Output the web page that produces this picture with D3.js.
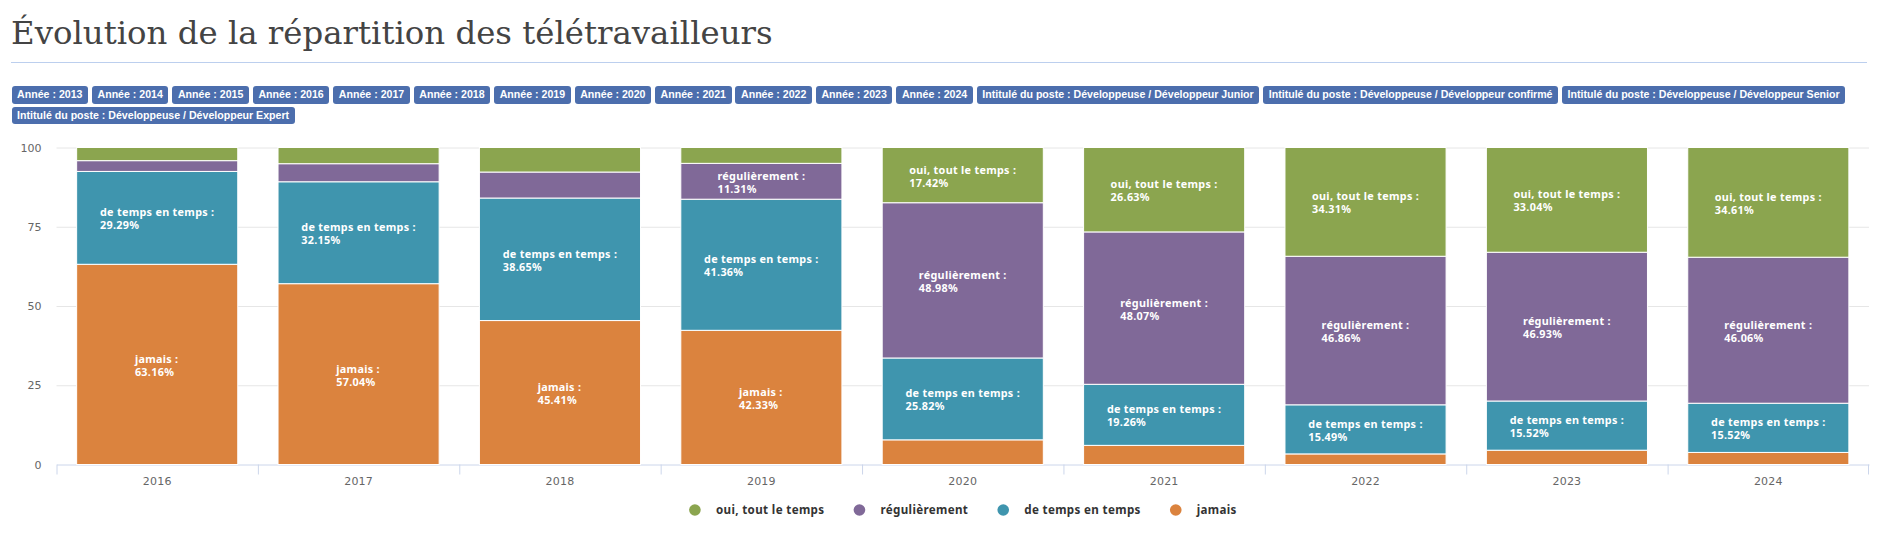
<!DOCTYPE html>
<html lang="fr">
<head>
<meta charset="utf-8">
<title>Évolution de la répartition des télétravailleurs</title>
<script src="https://cdn.jsdelivr.net/npm/d3@7.9.0/dist/d3.min.js"></script>
<style>
  html, body { margin: 0; padding: 0; background: #fff; width: 1883px; height: 540px; overflow: hidden; }
  h1 {
    position: absolute; left: 11px; top: 14px; margin: 0;
    font: 400 32.4px "DejaVu Serif", serif; color: #444; white-space: nowrap;
  }
  .rule { position: absolute; left: 11px; top: 62px; width: 1856px; height: 1px; background: #bccfee; }
  .filters { position: absolute; left: 11.5px; top: 86px; width: 1860px; display: flex; flex-wrap: wrap; gap: 3px 3.9px; }
  .filters span {
    background: #4c6ead; color: #fff; border-radius: 3px; padding: 0 5.6px; height: 17.5px;
    font: bold 10.6px/17.5px "Liberation Sans", sans-serif; white-space: nowrap;
  }
  svg { position: absolute; left: 0; top: 0; }
</style>
</head>
<body>
<h1>Évolution de la répartition des télétravailleurs</h1>
<div class="rule"></div>
<div class="filters"></div>
<svg width="1883" height="540"></svg>
<script>
const years = ['2016', '2017', '2018', '2019', '2020', '2021', '2022', '2023', '2024'];
const seriesNames = ['jamais', 'de temps en temps', 'régulièrement', 'oui, tout le temps'];
const jamais = [63.16, 57.04, 45.41, 42.33, 7.78, 6.04, 3.34, 4.51, 3.81];
const deTemps = [29.29, 32.15, 38.65, 41.36, 25.82, 19.26, 15.49, 15.52, 15.52];
const regulier = [3.4, 5.7, 8.2, 11.31, 48.98, 48.07, 46.86, 46.93, 46.06];
const toutLeTemps = [4.15, 5.11, 7.74, 5.0, 17.42, 26.63, 34.31, 33.04, 34.61];
const colors = ['#db833e', '#3f95ae', '#806998', '#8ba54f'];
const yTicks = [0, 25, 50, 75, 100];
const legendOrder = ['oui, tout le temps', 'régulièrement', 'de temps en temps', 'jamais'];
const filterLabels = [
  'Année : 2013', 'Année : 2014', 'Année : 2015', 'Année : 2016', 'Année : 2017', 'Année : 2018',
  'Année : 2019', 'Année : 2020', 'Année : 2021', 'Année : 2022', 'Année : 2023', 'Année : 2024',
  'Intitulé du poste : Développeuse / Développeur Junior',
  'Intitulé du poste : Développeuse / Développeur confirmé',
  'Intitulé du poste : Développeuse / Développeur Senior',
  'Intitulé du poste : Développeuse / Développeur Expert'
];
const minLabel = 11; // below this the label doesn't get drawn

d3.select('.filters').selectAll('span').data(filterLabels).join('span').text(d => d);

const svg = d3.select('svg');
const plotLeft = 56.5, plotRight = 1869, plotTop = 147.5, plotBottom = 464.5;
const labelFont = 'bold 10.8px "Noto Sans", sans-serif';
const axisFont = '11px "DejaVu Sans", sans-serif';

const x = d3.scaleBand().domain(years).range([plotLeft, plotRight]).paddingInner(0.2).paddingOuter(0.1);
const xCat = d3.scaleBand().domain(years).range([plotLeft, plotRight]);
const y = d3.scaleLinear().domain([0, 100]).range([plotBottom, plotTop]);
const color = d3.scaleOrdinal(seriesNames, colors);

// grid
svg.append('g').selectAll('line').data(yTicks.filter(d => d > 0)).join('line')
  .attr('x1', plotLeft).attr('x2', plotRight)
  .attr('y1', d => y(d) + 0.5).attr('y2', d => y(d) + 0.5)
  .attr('stroke', '#e6e6e6');

// y axis labels
const yAxis = svg.append('g').attr('transform', `translate(${plotLeft},0)`)
  .call(d3.axisLeft(y).tickValues(yTicks).tickSize(0).tickPadding(15));
yAxis.select('.domain').remove();
yAxis.selectAll('text').style('font', axisFont).attr('fill', '#666');

// x axis
const xAxis = svg.append('g').attr('transform', `translate(0,${plotBottom})`)
  .call(d3.axisBottom(xCat).tickSize(0).tickPadding(13));
xAxis.select('.domain').attr('stroke', '#ccd6eb');
xAxis.selectAll('text').style('font', axisFont).attr('fill', '#666').attr('letter-spacing', '0.2px');
xAxis.selectAll('.edge').data(years.concat('end')).join('line').attr('class', 'edge')
  .attr('x1', d => d === 'end' ? plotRight - 0.5 : xCat(d) + 0.5)
  .attr('x2', d => d === 'end' ? plotRight - 0.5 : xCat(d) + 0.5)
  .attr('y1', 0).attr('y2', 10)
  .attr('stroke', '#ccd6eb');

// stack the four series
const rows = years.map((year, i) => ({
  year,
  'jamais': jamais[i],
  'de temps en temps': deTemps[i],
  'régulièrement': regulier[i],
  'oui, tout le temps': toutLeTemps[i]
}));
const stacked = d3.stack().keys(seriesNames)(rows);

const groups = svg.append('g').selectAll('g').data(stacked).join('g')
  .attr('fill', d => color(d.key));

groups.selectAll('rect').data(d => d).join('rect')
  .attr('x', d => x(d.data.year))
  .attr('width', x.bandwidth())
  .attr('y', d => y(d[1]))
  .attr('height', d => y(d[0]) - y(d[1]))
  .attr('stroke', '#fff');

// labels, left aligned block centered in the segment
stacked.forEach(s => {
  s.forEach(d => {
    const val = d[1] - d[0];
    if (val < minLabel) return;
    const t = svg.append('text').style('font', labelFont).attr('fill', '#fff').attr('letter-spacing', '0.3px');
    const cy = (y(d[0]) + y(d[1])) / 2;
    t.append('tspan').attr('x', 0).attr('y', cy - 1.5).text(s.key + ' :');
    t.append('tspan').attr('x', 0).attr('y', cy + 11.5).text(val.toFixed(2) + '%');
    const w = t.node().getBBox().width;
    const bx = x(d.data.year) + x.bandwidth() / 2 - w / 2;
    t.selectAll('tspan').attr('x', bx);
  });
});

// legend
const legend = svg.append('g');
let lx = 0;
legendOrder.forEach(name => {
  legend.append('circle').attr('cx', lx).attr('cy', 510).attr('r', 5.8).attr('fill', color(name));
  const t = legend.append('text').attr('x', lx + 21).attr('y', 514)
    .style('font', 'bold 11.6px "Noto Sans", sans-serif').attr('fill', '#333').attr('letter-spacing', '0.35px').text(name);
  lx += 21 + t.node().getComputedTextLength() + 35;
});
const lw = legend.node().getBBox();
legend.attr('transform', `translate(${(plotLeft + plotRight) / 2 - lw.width / 2 + 6},0)`);
</script>
</body>
</html>
